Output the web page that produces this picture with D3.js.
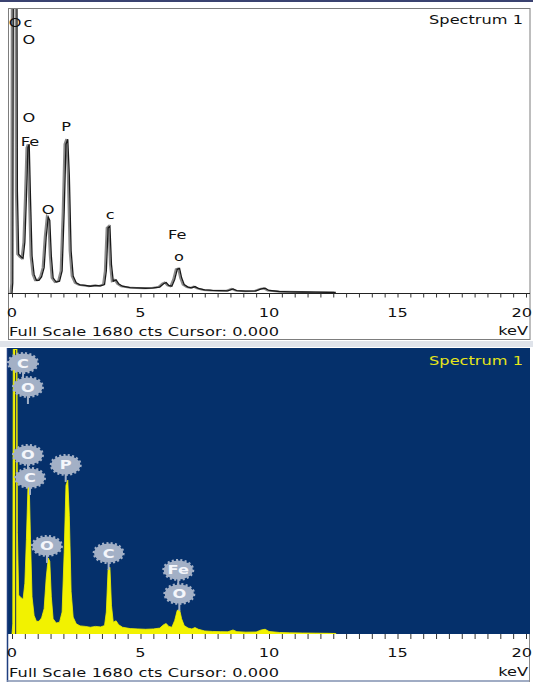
<!DOCTYPE html>
<html><head><meta charset="utf-8">
<script src="https://cdn.jsdelivr.net/npm/d3@7"></script>
<style>
html,body{margin:0;padding:0;background:#fff;}
svg{display:block;}
text{font-family:"DejaVu Sans",sans-serif;font-size:12px;}
</style></head><body>
<svg id="c" width="533" height="684"></svg>
<script>
// ---- data ----
const energyKeV = [0.00,0.03,0.06,0.18,0.21,0.26,0.35,0.43,0.50,0.56,0.62,0.67,0.72,0.78,0.86,0.95,1.05,1.15,1.25,1.33,1.41,1.47,1.53,1.60,1.72,1.85,1.95,2.03,2.10,2.17,2.23,2.30,2.38,2.50,2.65,2.85,3.05,3.25,3.45,3.60,3.67,3.74,3.81,3.87,3.94,4.05,4.15,4.30,4.60,4.90,5.20,5.50,5.75,5.90,6.00,6.10,6.22,6.33,6.43,6.52,6.60,6.70,6.85,7.00,7.12,7.25,7.50,7.80,8.10,8.40,8.60,8.75,9.10,9.50,9.70,9.85,10.0,10.4,10.8,11.3,11.8,12.3,12.6];
const counts    = [0,60,2600,2600,600,230,215,205,300,560,860,880,560,220,110,75,75,95,150,330,450,430,220,90,65,70,130,480,880,910,700,250,100,60,48,45,40,45,42,50,130,385,395,170,70,78,55,40,32,30,28,30,35,55,62,45,40,80,140,145,90,50,35,30,38,28,18,15,14,13,24,14,11,12,24,28,15,9,7,6,5,4,3];
const fullScale = 1680;
const xDomain = [0, 20];
const tickLabels = [0, 5, 10, 15, 20];
const minorStep = 0.5;
const titleText = "Spectrum 1";
const footerText = "Full Scale 1680 cts Cursor: 0.000";
const unitText = "keV";
// top (monochrome) panel annotations
const topLabels      = ["O","c","O","O","Fe","P","O","c","Fe","o"];
const topLabelKeV    = [0.12,0.62,0.66,0.66,0.70,2.11,1.41,3.82,6.43,6.50];
const topLabelCounts = [1603,1603,1497,1041,899,982,491,467,349,213];
// bottom (colour) panel badges
const badgeLabels = ["C","O","O","C","P","O","C","Fe","O"];
const badgeKeV    = [0.43,0.62,0.62,0.70,2.09,1.36,3.76,6.47,6.51];
const badgeCounts = [1603,1461,1059,923,1000,521,479,379,237];
const markerKeV = 0.14;

const SX = 1.35;
const svg = d3.select("#c");

// scales
const x = d3.scaleLinear().domain(xDomain).range([12, 526]);
const yTop = d3.scaleLinear().domain([0, fullScale]).range([293, 9]);
const yBot = d3.scaleLinear().domain([0, fullScale]).range([634, 350]);
const pts = energyKeV.map((e, i) => [e, counts[i]]);

function sText(g, str, px, py, anchor, fill) {
  return g.append("text")
    .attr("transform", `translate(${px},${py}) scale(${SX},1)`)
    .attr("text-anchor", anchor)
    .attr("fill", fill || "#111")
    .text(str);
}
function tickLabel(g, t, py) {
  const last = t === xDomain[1];
  sText(g, String(t), last ? 532 : x(t), py, last ? "end" : "middle");
}

const defs = svg.append("defs");
defs.append("clipPath").attr("id","clipTop").append("rect").attr("x",9).attr("y",9).attr("width",521).attr("height",284);
defs.append("clipPath").attr("id","clipBot").append("rect").attr("x",8).attr("y",349).attr("width",522).attr("height",285);

// page decorations
svg.append("rect").attr("x",0).attr("y",0).attr("width",533).attr("height",2).attr("fill","#3a4270");
svg.append("rect").attr("x",0).attr("y",341).attr("width",533).attr("height",6).attr("fill","#dfe3ea");

// ---------- TOP PANEL ----------
const topG = svg.append("g");
topG.append("rect").attr("x",8.5).attr("y",8.5).attr("width",521.5).attr("height",331).attr("fill","#fff").attr("stroke","#7d7d7d");
const plotT = topG.append("g").attr("clip-path","url(#clipTop)");
const lineT = d3.line().x(d => x(d[0])).y(d => yTop(d[1]));
plotT.append("path").datum(pts).attr("d", lineT).attr("fill","none").attr("stroke","#8a8a8a").attr("stroke-width",2).attr("transform","translate(-1.5,0)");
plotT.append("path").datum(pts).attr("d", lineT).attr("fill","none").attr("stroke","#1a1a1a").attr("stroke-width",1.3);
// axis
topG.append("line").attr("x1",8).attr("x2",530).attr("y1",293.5).attr("y2",293.5).attr("stroke","#222");
const ticksT = topG.append("g").attr("transform","translate(0,293.5)")
  .call(d3.axisBottom(x).tickValues(d3.range(xDomain[0], xDomain[1] + 0.001, minorStep)).tickSize(4).tickFormat(""));
ticksT.select(".domain").remove();
ticksT.selectAll("line").attr("stroke","#333");
tickLabels.forEach(t => tickLabel(topG, t, 317));
sText(topG, footerText, 9, 336, "start").attr("textLength", 200);
sText(topG, unitText, 528, 335, "end");
sText(topG, titleText, 523, 24, "end");
topLabels.forEach((s, i) => {
  sText(topG, s, x(topLabelKeV[i]), yTop(topLabelCounts[i]) + 4.5, "middle");
});

// ---------- BOTTOM PANEL ----------
const botG = svg.append("g");
botG.append("rect").attr("x",7).attr("y",348).attr("width",523).attr("height",333).attr("fill","#fff");
botG.append("rect").attr("x",7).attr("y",348).attr("width",523).attr("height",286).attr("fill","#05306b");
const plotB = botG.append("g").attr("clip-path","url(#clipBot)");
const areaB = d3.area().x(d => x(d[0])).y0(yBot(0)).y1(d => yBot(d[1]));
plotB.append("path").datum(pts).attr("d", areaB).attr("fill","#f2f200").attr("stroke","#f2f200").attr("stroke-width",0.8);
plotB.append("line").attr("x1",x(markerKeV)).attr("x2",x(markerKeV)).attr("y1",yBot(fullScale)).attr("y2",yBot(0)).attr("stroke","#3b4a4a").attr("stroke-width",1.2);
// frame lines
botG.append("line").attr("x1",7.5).attr("x2",7.5).attr("y1",348).attr("y2",682).attr("stroke","#1f3f80").attr("stroke-width",1.5);
botG.append("line").attr("x1",7).attr("x2",530).attr("y1",681).attr("y2",681).attr("stroke","#8090b0").attr("stroke-width",1.5);
botG.append("line").attr("x1",529.5).attr("x2",529.5).attr("y1",634).attr("y2",682).attr("stroke","#8a8a8a");
const ticksB = botG.append("g").attr("transform","translate(0,634)")
  .call(d3.axisBottom(x).tickValues(d3.range(xDomain[0], xDomain[1] + 0.001, minorStep)).tickSize(5).tickFormat(""));
ticksB.select(".domain").remove();
ticksB.selectAll("line").attr("stroke","#333");
tickLabels.forEach(t => tickLabel(botG, t, 657));
sText(botG, footerText, 9, 677, "start").attr("textLength", 200);
sText(botG, unitText, 528, 676, "end");
sText(botG, titleText, 523, 365, "end", "#e6e61a");
// badges
const badgeG = botG.append("g");
badgeLabels.forEach((s, i) => {
  const bx = x(badgeKeV[i]), by = yBot(badgeCounts[i]);
  badgeG.append("line").attr("x1",bx).attr("x2",bx).attr("y1",by).attr("y2",by+17).attr("stroke","#a3b0c6").attr("stroke-width",2);
});
badgeLabels.forEach((s, i) => {
  const bx = x(badgeKeV[i]), by = yBot(badgeCounts[i]);
  badgeG.append("ellipse").attr("cx",bx).attr("cy",by).attr("rx",14.5).attr("ry",9.5)
    .attr("fill","#a3b0c6").attr("stroke","#a3b0c6").attr("stroke-width",3).attr("stroke-dasharray","2,2.2");
  sText(badgeG, s, bx, by + 4.5, "middle", "#f4f6fb").attr("font-weight","bold");
});
</script>
</body></html>
